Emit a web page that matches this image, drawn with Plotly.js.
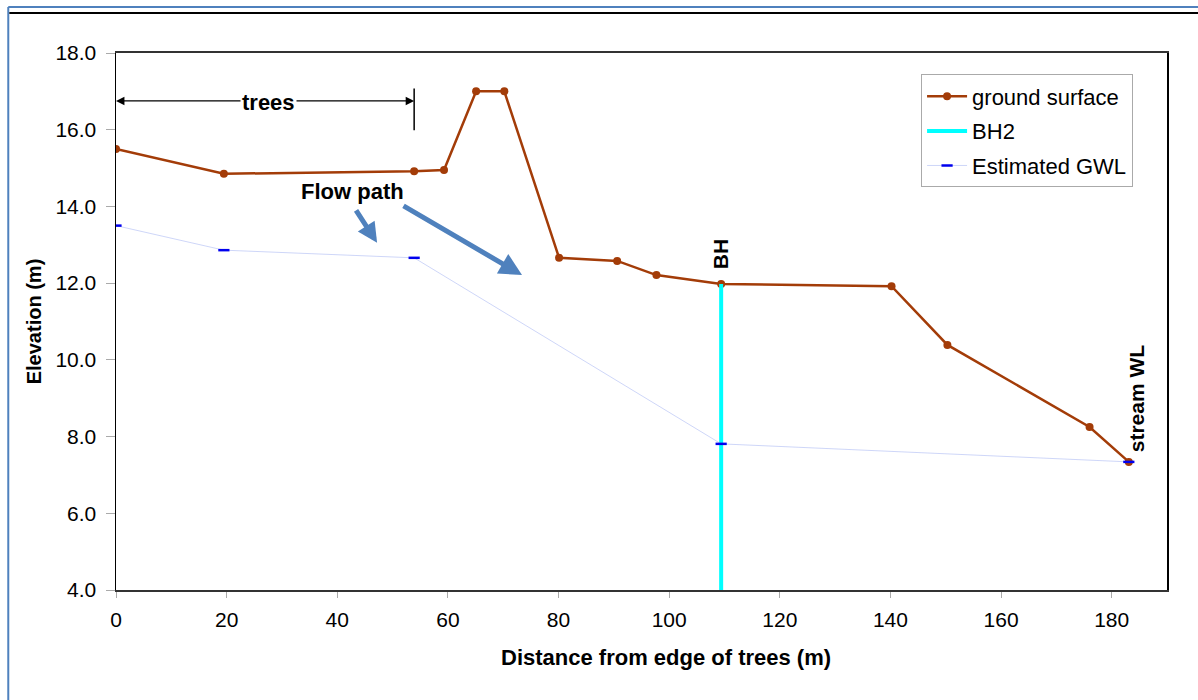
<!DOCTYPE html>
<html>
<head>
<meta charset="utf-8">
<script src="https://cdn.plot.ly/plotly-3.0.1.min.js"></script>
<style>
html,body{margin:0;padding:0;background:#fff;}
#chart{width:1198px;height:700px;}
</style>
</head>
<body>
<div id="chart"></div>
<script>
// Ground surface profile
const groundX = [0, 19.5, 53.9, 59.3, 65.1, 70.2, 80.1, 90.6, 97.7, 109.4, 140.2, 150.3, 176.0, 183.1];
const groundY = [15.5, 14.85, 14.92, 14.95, 17.0, 17.0, 12.66, 12.58, 12.21, 11.98, 11.92, 10.39, 8.25, 7.34];
// Borehole BH2
const bhX = [109.4, 109.4];
const bhY = [4.0, 11.98];
// Estimated groundwater level
const gwlX = [0, 19.5, 53.9, 109.4, 183.1];
const gwlY = [13.5, 12.86, 12.66, 7.81, 7.34];
// Axis ticks
const xTicks = [0, 20, 40, 60, 80, 100, 120, 140, 160, 180];
const yTicks = [4, 6, 8, 10, 12, 14, 16, 18];
const yTickText = ["4.0", "6.0", "8.0", "10.0", "12.0", "14.0", "16.0", "18.0"];

const font = "Liberation Sans, Arial, sans-serif";

const traces = [
  {x: groundX, y: groundY, name: "ground surface", mode: "lines+markers", legendgroup: "g1",
   line: {color: "#a33c08", width: 2.5}, marker: {color: "#a33c08", size: 8}},
  {x: bhX, y: bhY, name: "BH2", mode: "lines", legendgroup: "g2",
   line: {color: "#00ffff", width: 4}},
  {x: gwlX, y: gwlY, name: "Estimated GWL", mode: "lines+markers", legendgroup: "g3",
   line: {color: "#c2ccf6", width: 0.8},
   marker: {symbol: "line-ew", size: 8, line: {color: "#0000ee", width: 2.5}}}
];

const layout = {
  width: 1198, height: 700,
  margin: {l: 116, r: 31, t: 53, b: 110},
  paper_bgcolor: "#ffffff", plot_bgcolor: "#ffffff",
  font: {family: font, size: 21, color: "#000"},
  showlegend: true,
  legend: {x: 0.766, y: 0.96, xanchor: "left", yanchor: "top",
    bgcolor: "#fff", bordercolor: "#aaa", borderwidth: 1,
    font: {family: font, size: 22}, tracegroupgap: 3, itemwidth: 40},
  xaxis: {range: [0, 190], tickvals: xTicks, ticks: "outside", ticklen: 6, tickcolor: "#aaa",
    ticklabelstandoff: 4,
    showgrid: false, zeroline: false, showline: true, linecolor: "#333", linewidth: 2, mirror: true,
    tickfont: {family: font, size: 21}},
  yaxis: {range: [4, 18], tickvals: yTicks, ticktext: yTickText, ticks: "outside", ticklen: 9, tickcolor: "#aaa",
    ticklabelstandoff: 5,
    showgrid: false, zeroline: false, showline: true, linecolor: "#000", linewidth: 1.5, mirror: true,
    tickfont: {family: font, size: 21},
    title: {text: "<b>Elevation (m)</b>", font: {family: font, size: 20}, standoff: 8}},
  shapes: [
    // outer frame
    {type: "line", xref: "paper", yref: "paper", x0: -0.1025, x1: -0.1025, y0: -0.25, y1: 1.0857,
     line: {color: "#4f81bd", width: 2}},
    {type: "line", xref: "paper", yref: "paper", x0: -0.1025, x1: 1.04, y0: 1.0857, y1: 1.0857,
     line: {color: "#4f81bd", width: 2}},
    {type: "line", xref: "paper", yref: "paper", x0: -0.1015, x1: 1.04, y0: 1.0745, y1: 1.0745,
     line: {color: "#000", width: 2}},
    // trees extent: vertical bar
    {type: "line", xref: "x", yref: "paper", x0: 53.9, x1: 53.9, y0: 0.856, y1: 0.934,
     line: {color: "#000", width: 1.5}}
  ],
  annotations: [
    // x axis title
    {x: 0.523, y: -0.1266, xref: "paper", yref: "paper", text: "<b>Distance from edge of trees (m)</b>",
     showarrow: false, font: {family: font, size: 22}, xanchor: "center", yanchor: "middle"},
    // trees arrows
    {x: 0, y: 16.75, xref: "x", yref: "y", text: "", showarrow: true,
     arrowhead: 2, arrowsize: 1.3, arrowwidth: 1.3, arrowcolor: "#000", ax: 150, ay: 0},
    {x: 53.9, y: 16.75, xref: "x", yref: "y", text: "", showarrow: true,
     arrowhead: 2, arrowsize: 1.3, arrowwidth: 1.3, arrowcolor: "#000", ax: -150, ay: 0},
    {x: 27.5, y: 16.7, xref: "x", yref: "y", text: "<b>trees</b>", showarrow: false,
     font: {family: font, size: 22}, bgcolor: "#fff"},
    // Flow path
    {x: 42.7, y: 14.38, xref: "x", yref: "y", text: "<b>Flow path</b>", showarrow: false,
     font: {family: font, size: 22}},
    {x: 47.2, y: 13.05, xref: "x", yref: "y", text: "", showarrow: true,
     arrowhead: 2, arrowsize: 0.8, arrowwidth: 5, arrowcolor: "#4f81bd", ax: -22, ay: -34},
    {x: 73.4, y: 12.21, xref: "x", yref: "y", text: "", showarrow: true,
     arrowhead: 2, arrowsize: 0.9, arrowwidth: 5, arrowcolor: "#4f81bd", ax: -120, ay: -70},
    // BH label
    {x: 109.4, y: 12.76, xref: "x", yref: "y", text: "<b>BH</b>", textangle: -90, showarrow: false,
     font: {family: font, size: 21}},
    // stream WL label
    {x: 184.4, y: 9.0, xref: "x", yref: "y", text: "<b>stream WL</b>", textangle: -90, showarrow: false,
     font: {family: font, size: 21}}
  ]
};

Plotly.newPlot("chart", traces, layout, {displayModeBar: false, staticPlot: true});
</script>
</body>
</html>
